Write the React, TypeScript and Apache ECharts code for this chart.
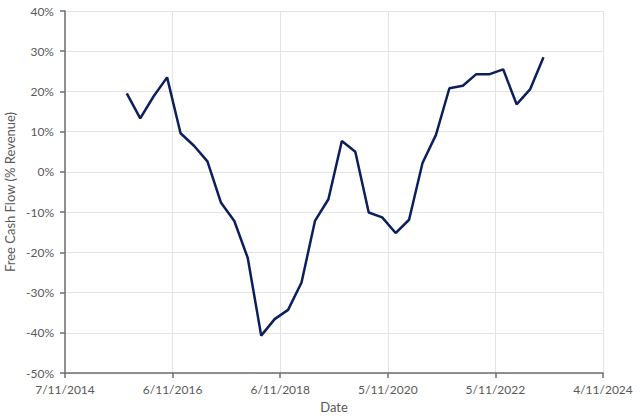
import { useEffect, useRef } from 'react'
import * as echarts from 'echarts'

// Eixo de datas: 5 intervalos iguais entre 7/11/2014 e 4/11/2024
const TICK_LABELS = ['7/11/2014', '6/11/2016', '6/11/2018', '5/11/2020', '5/11/2022', '4/11/2024']
const AXIS_START = '2014-07-11'
const AXIS_END = '2024-04-11'

// Datas dos pontos (aprox. trimestrais), lidas da posicao no grafico
const DATES = [
  '2015-08-24', '2015-11-21', '2016-02-18', '2016-05-17', '2016-08-14', '2016-11-11',
  '2017-02-08', '2017-05-08', '2017-08-05', '2017-11-02', '2018-01-30', '2018-04-29',
  '2018-07-27', '2018-10-24', '2019-01-21', '2019-04-20', '2019-07-18', '2019-10-15',
  '2020-01-12', '2020-04-10', '2020-07-08', '2020-10-05', '2021-01-02', '2021-04-01',
  '2021-06-29', '2021-09-26', '2021-12-24', '2022-03-23', '2022-06-20', '2022-09-17',
  '2022-12-15', '2023-03-14',
]

// Free cash flow em % da receita
const FCF = [
  19.5, 13.3, 18.8, 23.5, 9.6, 6.5,
  2.6, -7.6, -12.2, -21.4, -40.7, -36.6,
  -34.3, -27.5, -12.2, -6.8, 7.7, 5.0,
  -10.1, -11.3, -15.2, -11.9, 2.2, 9.2,
  20.8, 21.4, 24.3, 24.3, 25.5, 16.8,
  20.5, 28.5,
]

const DAY = 86400000
const toDays = (d: string) => (Date.parse(d) - Date.parse(AXIS_START)) / DAY
const SPAN = toDays(AXIS_END)
const STEP = SPAN / 5

const FONT = 'Lato, "Liberation Sans", sans-serif'
const LABEL_COLOR = '#595959'
const AXIS_COLOR = '#6e6e6e'

export default function App() {
  const ref = useRef<HTMLDivElement>(null)

  useEffect(() => {
    if (!ref.current) return
    const chart = echarts.init(ref.current, undefined, { renderer: 'svg' })
    chart.setOption({
      animation: false,
      backgroundColor: '#ffffff',
      textStyle: { fontFamily: FONT },
      grid: { left: 65, right: 37, top: 11, bottom: 45, containLabel: false, outerBoundsMode: 'none' },
      xAxis: {
        type: 'value',
        min: 0,
        max: SPAN,
        interval: STEP,
        name: 'Date',
        nameLocation: 'middle',
        nameGap: 27,
        nameMoveOverlap: false,
        nameTextStyle: { color: LABEL_COLOR, fontSize: 13, fontFamily: FONT },
        axisLine: { onZero: false, lineStyle: { color: AXIS_COLOR, width: 1.5 } },
        axisTick: { show: true, length: 5, lineStyle: { color: AXIS_COLOR, width: 1.5 } },
        axisLabel: {
          color: LABEL_COLOR,
          fontSize: 12,
          margin: 10,
          showMaxLabel: true,
          showMinLabel: true,
          formatter: (v: number) => TICK_LABELS[Math.round(v / STEP)] ?? '',
        },
        splitLine: { show: true, lineStyle: { color: '#e3e3e3', width: 1 } },
      },
      yAxis: {
        type: 'value',
        min: -50,
        max: 40,
        interval: 10,
        name: 'Free Cash Flow (% Revenue)',
        nameLocation: 'middle',
        nameGap: 49,
        nameMoveOverlap: false,
        nameTextStyle: { color: LABEL_COLOR, fontSize: 13, fontFamily: FONT },
        axisLine: { show: true, onZero: false, lineStyle: { color: AXIS_COLOR, width: 1.5 } },
        axisTick: { show: true, length: 5, lineStyle: { color: AXIS_COLOR, width: 1.5 } },
        axisLabel: { color: LABEL_COLOR, fontSize: 12, margin: 11, formatter: (v: number) => `${v}%` },
        splitLine: { show: true, lineStyle: { color: '#e3e3e3', width: 1 } },
      },
      series: [
        {
          type: 'line',
          data: DATES.map((d, i) => [toDays(d), FCF[i]]),
          symbol: 'none',
          lineStyle: { color: '#0b1f5c', width: 2.5 },
        },
      ],
    })
    return () => chart.dispose()
  }, [])

  return <div ref={ref} style={{ position: 'fixed', left: 0, top: 0, width: 640, height: 418 }} />
}
